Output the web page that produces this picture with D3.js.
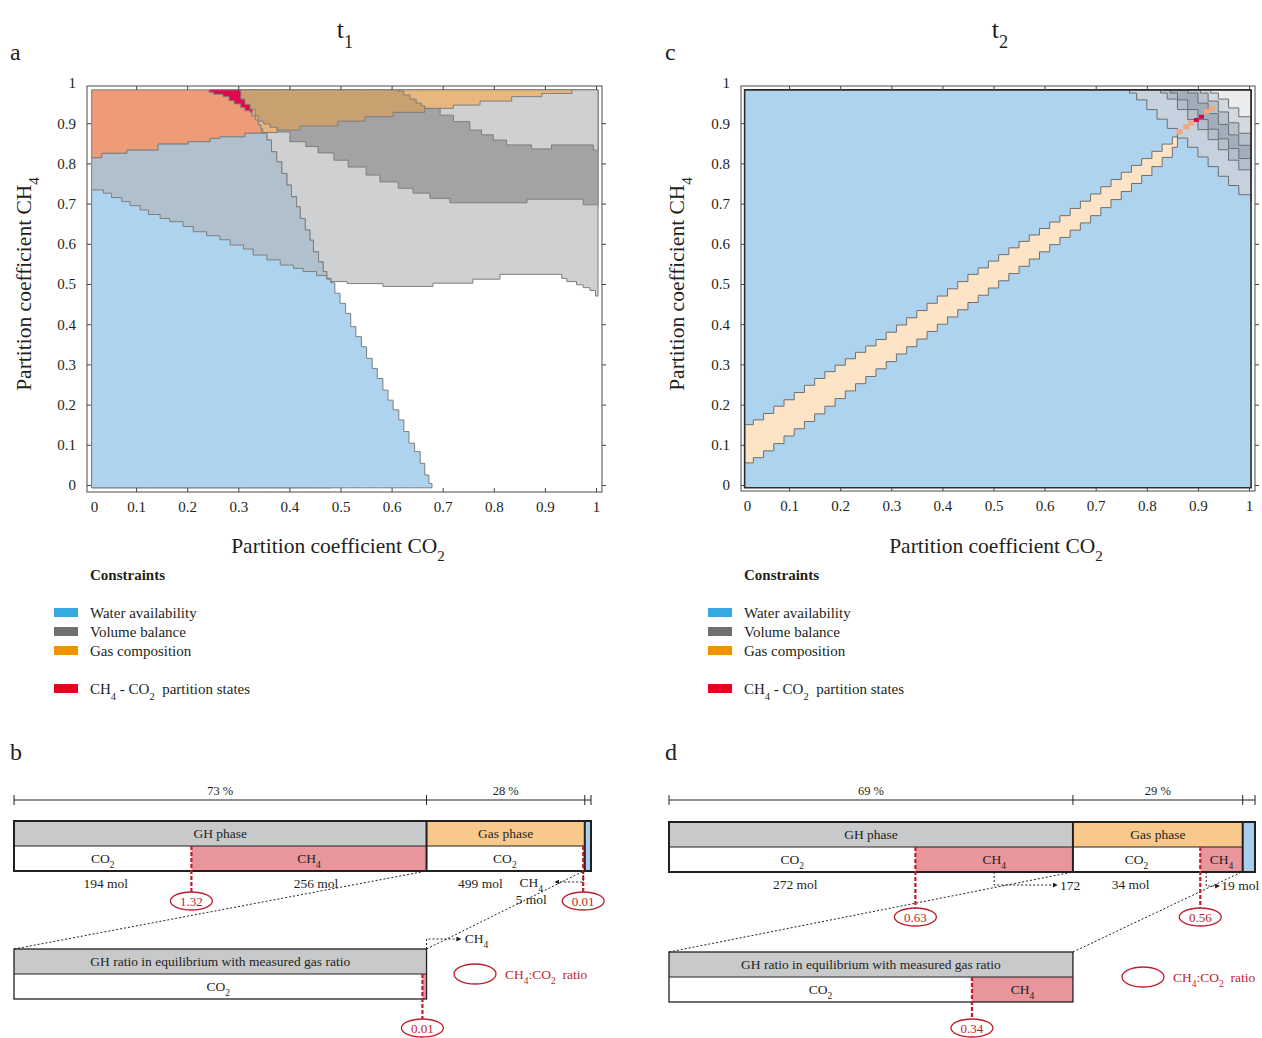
<!DOCTYPE html>
<head>
<meta charset="utf-8">
<script src="https://d3js.org/d3.v7.min.js"></script>
<style>
  body { margin: 0; background: #fff; }
  svg text { font-family: "Liberation Serif", "Times New Roman", Times, serif; }
</style>
</head>
<body>
<script>
// ---------- grid extent of the partition maps (CO2 coeff, CH4 coeff)
const gridLeft = 0.013, gridRight = 1.004, gridBottom = -0.007, gridTop = 0.983;

// ---------- panel a (t1): step boundaries [CO2, CH4]
const waterTopA = [[0.013,0.734],[0.036,0.726],[0.052,0.715],[0.072,0.705],[0.088,0.695],[0.108,0.684],[0.124,0.673],[0.147,0.663],[0.166,0.655],[0.192,0.643],[0.212,0.630],[0.238,0.620],[0.264,0.610],[0.284,0.597],[0.310,0.587],[0.329,0.572],[0.356,0.560],[0.382,0.547],[0.408,0.539],[0.427,0.531],[0.453,0.521],[0.473,0.512],[0.481,0.503],[0.489,0.477],[0.499,0.452],[0.510,0.427],[0.520,0.394],[0.530,0.369],[0.541,0.344],[0.551,0.315],[0.562,0.290],[0.572,0.265],[0.583,0.236],[0.593,0.211],[0.603,0.187],[0.614,0.162],[0.624,0.133],[0.634,0.104],[0.645,0.083],[0.656,0.054],[0.665,0.025],[0.673,0.004],[0.679,0.004]];
const gasEdgeA = [[0.013,0.814],[0.033,0.825],[0.082,0.833],[0.143,0.848],[0.202,0.854],[0.245,0.862],[0.264,0.866],[0.313,0.875]];
const volumeSlopeA = [[0.342,0.875],[0.356,0.858],[0.365,0.829],[0.375,0.804],[0.385,0.775],[0.395,0.746],[0.404,0.717],[0.414,0.692],[0.421,0.663],[0.431,0.634],[0.440,0.609],[0.447,0.580],[0.457,0.555],[0.466,0.531],[0.473,0.514]];
const volumeLowA = [[0.481,0.506],[0.513,0.501],[0.583,0.494],[0.681,0.502],[0.759,0.512],[0.812,0.524],[0.933,0.514],[0.943,0.506],[0.962,0.498],[0.975,0.491],[0.988,0.484],[0.999,0.470],[1.004,0.470]];
const volumeCoreLowA = [[0.376,0.878],[0.401,0.854],[0.432,0.842],[0.456,0.826],[0.487,0.808],[0.515,0.791],[0.550,0.771],[0.577,0.754],[0.613,0.738],[0.642,0.726],[0.675,0.713],[0.714,0.702],[0.865,0.711],[0.975,0.697],[1.004,0.697]];
const volumeCoreTopA = [[0.665,0.937],[0.695,0.920],[0.721,0.904],[0.753,0.883],[0.776,0.871],[0.799,0.858],[0.825,0.846],[0.874,0.836],[0.913,0.846],[0.995,0.833],[1.004,0.833]];
const gasPatchA = [[0.327,0.918],[0.333,0.908],[0.339,0.896],[0.344,0.886],[0.348,0.877],[0.376,0.877]];
const partitionA = [[0.243,0.977],[0.252,0.972],[0.270,0.966],[0.282,0.956],[0.292,0.948],[0.305,0.939],[0.313,0.931],[0.323,0.927],[0.327,0.927]];
const gasCoreA = [[0.305,0.960],[0.313,0.947],[0.323,0.935],[0.333,0.918],[0.339,0.905],[0.350,0.898],[0.362,0.890],[0.376,0.883],[0.421,0.893],[0.495,0.905],[0.548,0.916],[0.603,0.927],[0.665,0.927]];
const gasRightA = [[0.613,0.980],[0.624,0.970],[0.636,0.960],[0.648,0.950],[0.658,0.943],[0.665,0.937],[0.721,0.945],[0.773,0.955],[0.835,0.966],[0.894,0.974],[0.953,0.974]];

// ---------- panel c (t2): gas band [CO2, low CH4, high CH4]
const gasBandC = [[0.013,0.055,0.150],[0.03,0.068,0.162],[0.05,0.085,0.178],[0.07,0.103,0.196],[0.09,0.122,0.212],[0.11,0.140,0.230],[0.13,0.158,0.248],[0.15,0.177,0.265],[0.17,0.196,0.282],[0.19,0.215,0.298],[0.21,0.234,0.314],[0.23,0.252,0.330],[0.25,0.270,0.346],[0.27,0.289,0.362],[0.29,0.307,0.380],[0.31,0.326,0.398],[0.33,0.344,0.416],[0.35,0.363,0.434],[0.37,0.382,0.452],[0.39,0.400,0.470],[0.41,0.418,0.488],[0.43,0.436,0.506],[0.45,0.454,0.524],[0.47,0.472,0.540],[0.49,0.490,0.557],[0.51,0.508,0.573],[0.53,0.526,0.590],[0.55,0.544,0.606],[0.57,0.562,0.622],[0.59,0.580,0.638],[0.61,0.598,0.654],[0.63,0.616,0.670],[0.65,0.634,0.688],[0.67,0.652,0.706],[0.69,0.670,0.724],[0.71,0.690,0.742],[0.73,0.710,0.760],[0.75,0.730,0.778],[0.77,0.750,0.795],[0.79,0.770,0.812],[0.81,0.792,0.830],[0.83,0.815,0.848],[0.85,0.840,0.866],[0.86,0.855,0.875]];
// volume-balance stripes, lower edges
const stripe1C = [[0.766,0.975],[0.78,0.958],[0.80,0.934],[0.82,0.910],[0.84,0.887],[0.86,0.863],[0.88,0.840],[0.90,0.816],[0.92,0.792],[0.94,0.768],[0.96,0.745],[0.98,0.722],[1.004,0.705]];
const stripe2C = [[0.827,0.975],[0.84,0.960],[0.86,0.934],[0.88,0.909],[0.90,0.884],[0.92,0.859],[0.94,0.834],[0.96,0.808],[0.98,0.784],[1.004,0.765]];
const stripe3C = [[0.846,0.975],[0.86,0.958],[0.88,0.934],[0.90,0.909],[0.92,0.885],[0.94,0.861],[0.96,0.837],[0.98,0.812],[1.004,0.795]];
const stripe4C = [[0.88,0.975],[0.90,0.950],[0.92,0.924],[0.94,0.897],[0.96,0.871],[0.98,0.845],[1.004,0.825]];
const stripe5C = [[0.905,0.975],[0.92,0.955],[0.94,0.928],[0.96,0.901],[0.98,0.875],[1.004,0.855]];
const stripe6C = [[0.925,0.975],[0.94,0.960],[0.96,0.938],[0.98,0.916],[1.004,0.900]];
const gasTailC = [[0.864,0.879],[0.877,0.891],[0.887,0.900],[0.917,0.929],[0.927,0.937]];
const partitionC = [[0.897,0.908],[0.907,0.916]];

// ---------- panels b and d
const pctB = [73, 28, 1.1];          // GH, gas, pore water
const pctD = [69, 29, 2.1];
const ghMolB = [194, 256];           // CO2, CH4
const gasMolB = [499, 5];
const ghMolD = [272, 172];
const gasMolD = [34, 19];
const ratioB = [1.32, 0.01, 0.01];   // GH, gas, GH in equilibrium
const ratioD = [0.63, 0.56, 0.34];
const co2ShareB = [0.43, 0.99, 0.99];
const co2ShareD = [0.61, 0.75, 0.75];

const constraintNames = ["Water availability", "Volume balance", "Gas composition"];
const ticks = d3.range(0, 11).map(i => +(i / 10).toFixed(1));

const INK = "#231f20", RED = "#be1e2d", EDGE = "#7e7e7e";
const svg = d3.select("body").append("svg").attr("width", 1262).attr("height", 1038);

function rich(sel, parts, subSize) {
  parts.forEach(p => {
    if (Array.isArray(p)) sel.append("tspan").attr("baseline-shift", "sub").attr("font-size", subSize).text(p[0]);
    else sel.append("tspan").text(p);
  });
  return sel;
}
function label(x, y, size, parts, anchor, fill) {
  const t = svg.append("text").attr("x", x).attr("y", y).attr("font-size", size)
    .attr("text-anchor", anchor || "start").attr("fill", fill || INK);
  return rich(t, parts, size * 0.7);
}

function region(x, y, mode) {
  return d3.area().curve(d3.curveStepAfter)
    .x(d => x(d[0]))
    .y0(d => y(mode === "below" ? gridBottom : d[1]))
    .y1(d => y(mode === "below" ? d[1] : mode === "above" ? gridTop : d[2]));
}

function drawAxes(x, y, f) {
  const [fx0, fx1, fy0, fy1] = f;
  const g = svg.append("g");
  const fmt = d3.format("~g");
  const bottom = g.append("g").attr("transform", `translate(0,${fy1})`)
    .call(d3.axisBottom(x).tickValues(ticks).tickFormat(fmt).tickSize(-4).tickPadding(9));
  const left = g.append("g").attr("transform", `translate(${fx0},0)`)
    .call(d3.axisLeft(y).tickValues(ticks).tickFormat(fmt).tickSize(-4).tickPadding(11));
  const top = g.append("g").attr("transform", `translate(0,${fy0})`)
    .call(d3.axisTop(x).tickValues(ticks).tickFormat("").tickSize(-4));
  const right = g.append("g").attr("transform", `translate(${fx1},0)`)
    .call(d3.axisRight(y).tickValues(ticks).tickFormat("").tickSize(4));
  g.selectAll(".domain").remove();
  g.selectAll(".tick line").attr("stroke", "#444");
  g.selectAll(".tick text").attr("font-size", 15).attr("fill", INK)
    .attr("font-family", '"Liberation Serif", "Times New Roman", serif');
  [bottom, top].forEach(a => a.selectAll(".tick").filter(d => d === 0).select("line").remove());
  [left, right].forEach(a => a.selectAll(".tick").filter(d => d === 1).select("line").remove());
  bottom.selectAll(".tick").filter(d => d === 0).select("text").attr("x", 9);
  g.append("rect").attr("x", fx0).attr("y", fy0).attr("width", fx1 - fx0).attr("height", fy1 - fy0)
    .attr("fill", "none").attr("stroke", "#4a4a4a").attr("stroke-width", 1);
}

// ================= panel a =================
const xA = d3.scaleLinear().domain([0, 1]).range([85, 596]);
const yA = d3.scaleLinear().domain([0, 1]).range([485, 83]);
const layersA = [
  { rows: volumeSlopeA.concat(volumeLowA), mode: "above", fill: "#cfd0d2" },
  { rows: volumeCoreLowA, mode: "above", fill: "#a3a3a5" },
  { rows: volumeCoreTopA, mode: "above", fill: "#cfd0d2" },
  { rows: gasEdgeA.concat([[0.346, 0.875]]), mode: "above", fill: "#ee9b78" },
  { rows: gasPatchA, mode: "above", fill: "#e8b67c" },
  { rows: partitionA, mode: "above", fill: "#e2074d" },
  { rows: gasCoreA, mode: "above", fill: "#c9a06f" },
  { rows: gasRightA, mode: "above", fill: "#e8b77e" },
  { rows: gasEdgeA.concat(volumeSlopeA, [[0.481, 0.514]]), mode: "below", fill: "#b1c0cd" },
  { rows: waterTopA, mode: "below", fill: "#aed3ee" }
];
const gA = svg.append("g");
layersA.forEach(l => gA.append("path").datum(l.rows).attr("d", region(xA, yA, l.mode))
  .attr("fill", l.fill).attr("stroke", EDGE).attr("stroke-width", 1));
drawAxes(xA, yA, [87, 602, 86, 492]);

// ================= panel c =================
const xC = d3.scaleLinear().domain([0, 1]).range([738, 1249]);
const gC = svg.append("g");
const waterC = [[gridLeft, gridBottom, gridTop], [gridRight, gridBottom, gridTop]];
gC.append("path").datum(waterC).attr("d", region(xC, yA, "band")).attr("fill", "#aed3ee");
gC.append("path").datum(gasBandC).attr("d", region(xC, yA, "band"))
  .attr("fill", "#fde4c6").attr("stroke", "#6f6f6f").attr("stroke-width", 1);
[[stripe1C, "#c5d1dc"], [stripe2C, "#b3c0cc"], [stripe3C, "#a0aebb"], [stripe4C, "#b6c1cb"],
 [stripe5C, "#d4d9de"], [stripe6C, "#ebecee"]].forEach(([rows, fill]) =>
  gC.append("path").datum(rows).attr("d", region(xC, yA, "above"))
    .attr("fill", fill).attr("stroke", "#6a6f75").attr("stroke-width", 1));
gC.selectAll("rect.tail").data(gasTailC).join("rect").attr("class", "tail")
  .attr("x", d => xC(d[0]) - 3).attr("y", d => yA(d[1]) - 2.5).attr("width", 6).attr("height", 5)
  .attr("fill", "#f0a77a");
gC.selectAll("rect.part").data(partitionC).join("rect").attr("class", "part")
  .attr("x", d => xC(d[0]) - 2.5).attr("y", d => yA(d[1]) - 2).attr("width", 5).attr("height", 4)
  .attr("fill", "#e0004f");
gC.append("path").datum(waterC).attr("d", region(xC, yA, "band"))
  .attr("fill", "none").attr("stroke", "#2b2b2b").attr("stroke-width", 1.6);
drawAxes(xC, yA, [741, 1255, 86, 491]);

// ================= titles, axis labels, legends =================
label(345, 38, 26, ["t", ["1"]], "middle");
label(1000, 38, 26, ["t", ["2"]], "middle");
[["a", 10, 60], ["c", 665, 60], ["b", 10, 760], ["d", 665, 760]].forEach(([s, x, y]) =>
  svg.append("text").attr("x", x).attr("y", y).attr("font-size", 24).attr("fill", INK).text(s));

[[338, 31], [996, 684]].forEach(([cx, ly]) => {
  label(cx, 553, 21.5, ["Partition coefficient CO", ["2"]], "middle");
  const t = svg.append("text").attr("transform", `translate(${ly},284) rotate(-90)`)
    .attr("font-size", 21.5).attr("text-anchor", "middle").attr("fill", INK);
  rich(t, ["Partition coefficient CH", ["4"]], 15);
});

const swatchColors = ["#36a9e1", "#6f6f6f", "#f39200"];
[0, 654].forEach(dx => {
  svg.append("text").attr("x", 90 + dx).attr("y", 580).attr("font-size", 15).attr("font-weight", "bold")
    .attr("fill", INK).text("Constraints");
  constraintNames.forEach((name, i) => {
    svg.append("rect").attr("x", 54 + dx).attr("y", 608 + i * 19).attr("width", 24).attr("height", 9)
      .attr("fill", swatchColors[i]);
    svg.append("text").attr("x", 90 + dx).attr("y", 618 + i * 19).attr("font-size", 15)
      .attr("fill", INK).text(name);
  });
  svg.append("rect").attr("x", 54 + dx).attr("y", 684).attr("width", 24).attr("height", 9).attr("fill", "#e30520");
  label(90 + dx, 694, 15, ["CH", ["4"], " - CO", ["2"], "\u00a0\u00a0partition states"]);
});

// ================= panels b, d =================
function phaseBars(c) {
  const x = d3.scaleLinear().domain([0, d3.sum(c.pct)]).range([c.x0, c.x1]);
  const c1 = c.pct[0], c2 = c1 + c.pct[1], c3 = c2 + c.pct[2];
  const ghSplit = c1 * c.share[0], gasSplit = c1 + c.pct[1] * c.share[1];
  const h = 25, yb = c.yBar, bot = yb + 2 * h;
  const g = svg.append("g");

  // dimension line
  g.append("line").attr("x1", x(0)).attr("x2", x(c3)).attr("y1", c.yDim).attr("y2", c.yDim).attr("stroke", INK);
  [0, c1, c2, c3].forEach(v => g.append("line").attr("x1", x(v)).attr("x2", x(v))
    .attr("y1", c.yDim - 5).attr("y2", c.yDim + 5).attr("stroke", INK));
  [[0, c1, c.pct[0]], [c1, c2, c.pct[1]]].forEach(([a, b, p]) =>
    g.append("text").attr("x", (x(a) + x(b)) / 2).attr("y", c.yDim - 5).attr("text-anchor", "middle")
      .attr("font-size", 12.5).attr("fill", INK).text(p + " %"));

  // bar fills
  const rect = (a, b, y, hh, fill) => g.append("rect").attr("x", x(a)).attr("y", y)
    .attr("width", x(b) - x(a)).attr("height", hh).attr("fill", fill);
  rect(0, c1, yb, h, "#c8c9cb");
  rect(c1, c2, yb, h, "#f9c98b");
  rect(0, ghSplit, yb + h, h, "#fff");
  rect(ghSplit, c1, yb + h, h, "#e8969b");
  rect(c1, gasSplit, yb + h, h, "#fff");
  rect(gasSplit, c2, yb + h, h, "#e8969b");
  rect(c2, c3, yb, 2 * h, "#a8ceed");
  g.append("line").attr("x1", x(0)).attr("x2", x(c2)).attr("y1", yb + h).attr("y2", yb + h)
    .attr("stroke", INK).attr("stroke-width", 1);
  [c1, c2].forEach(v => g.append("line").attr("x1", x(v)).attr("x2", x(v)).attr("y1", yb).attr("y2", bot)
    .attr("stroke", INK).attr("stroke-width", 2));
  g.append("rect").attr("x", x(0)).attr("y", yb).attr("width", x(c3) - x(0)).attr("height", 2 * h)
    .attr("fill", "none").attr("stroke", INK).attr("stroke-width", 2);

  const txt = (xx, yy, parts, size, fill) => {
    const t = g.append("text").attr("x", xx).attr("y", yy).attr("text-anchor", "middle")
      .attr("font-size", size || 13.5).attr("fill", fill || INK);
    return rich(t, parts, 9.5);
  };
  txt((x(0) + x(c1)) / 2, yb + 17, ["GH phase"]);
  txt((x(c1) + x(c2)) / 2, yb + 17, ["Gas phase"]);
  txt((x(0) + x(ghSplit)) / 2, yb + h + 17, ["CO", ["2"]]);
  txt((x(ghSplit) + x(c1)) / 2, yb + h + 17, ["CH", ["4"]]);
  txt((x(c1) + x(gasSplit)) / 2, yb + h + 17, ["CO", ["2"]]);
  if (c.gasCH4Inside) txt((x(gasSplit) + x(c2)) / 2, yb + h + 17, ["CH", ["4"]]);
  txt(x(ghSplit / 2) + 3, bot + 17, [c.gh[0] + " mol"]);
  txt(x(c1 + c.pct[1] * 0.34), bot + 17, [c.gas[0] + " mol"]);

  // lower bar: GH ratio in equilibrium
  const lx0 = x(0), lx1 = x(c1), ly = c.yLow;
  const lsplit = lx0 + (lx1 - lx0) * c.share[2];
  g.append("rect").attr("x", lx0).attr("y", ly).attr("width", lx1 - lx0).attr("height", h).attr("fill", "#c8c9cb");
  g.append("rect").attr("x", lx0).attr("y", ly + h).attr("width", lsplit - lx0).attr("height", h).attr("fill", "#fff");
  g.append("rect").attr("x", lsplit).attr("y", ly + h).attr("width", lx1 - lsplit).attr("height", h).attr("fill", "#e8969b");
  g.append("line").attr("x1", lx0).attr("x2", lx1).attr("y1", ly + h).attr("y2", ly + h).attr("stroke", INK);
  g.append("rect").attr("x", lx0).attr("y", ly).attr("width", lx1 - lx0).attr("height", 2 * h)
    .attr("fill", "none").attr("stroke", INK).attr("stroke-width", 1.3);
  txt((lx0 + lx1) / 2, ly + 17, ["GH ratio in equilibrium with measured gas ratio"]);
  txt((lx0 + lsplit) / 2, ly + h + 17, ["CO", ["2"]]);
  if (c.lowCH4Inside) txt((lsplit + lx1) / 2, ly + h + 17, ["CH", ["4"]]);

  // zoom connectors
  const dotted = (pts, arrow) => g.append("path").attr("d", d3.line()(pts)).attr("fill", "none")
    .attr("stroke", INK).attr("stroke-width", 1).attr("stroke-dasharray", "2,2")
    .attr("marker-end", arrow ? "url(#arrow)" : null);
  dotted([[lx0, ly], [x(c1), bot]]);
  dotted([[lx1, ly], [x(c2) - 1, bot]]);

  // ratio markers
  const marker = (xx, y0, ey, v) => {
    g.append("line").attr("x1", xx).attr("x2", xx).attr("y1", y0).attr("y2", ey - 9)
      .attr("stroke", RED).attr("stroke-width", 2.2).attr("stroke-dasharray", "4,2");
    g.append("ellipse").attr("cx", xx).attr("cy", ey).attr("rx", 21).attr("ry", 9)
      .attr("fill", "#fff").attr("stroke", RED).attr("stroke-width", 1.3);
    txt(xx, ey + 4.5, [d3.format(".2f")(v)], 13, RED);
  };
  marker(x(ghSplit), yb + h, c.yEll, c.ratio[0]);
  marker(x(gasSplit), yb + h, c.yEll, c.ratio[1]);
  marker(lsplit, ly + h, c.yEllLow, c.ratio[2]);

  // legend ellipse
  g.append("ellipse").attr("cx", c.legX).attr("cy", c.legY).attr("rx", 21).attr("ry", 10)
    .attr("fill", "none").attr("stroke", RED).attr("stroke-width", 1.3);
  const lt = g.append("text").attr("x", c.legX + 30).attr("y", c.legY + 5).attr("font-size", 13.5).attr("fill", RED);
  rich(lt, ["CH", ["4"], ":CO", ["2"], "\u00a0 ratio"], 9.5);

  return { x, g, c1, c2, ghSplit, gasSplit, bot, lx1, ly, txt, dotted };
}

svg.append("defs").append("marker").attr("id", "arrow").attr("viewBox", "0 0 6 6").attr("refX", 5).attr("refY", 3)
  .attr("markerWidth", 5).attr("markerHeight", 5).attr("orient", "auto")
  .append("path").attr("d", "M0,0L6,3L0,6Z").attr("fill", INK);

const pb = phaseBars({ x0: 14, x1: 591, yDim: 800, yBar: 821, yLow: 949, yEll: 901, yEllLow: 1028,
  pct: pctB, share: co2ShareB, gh: ghMolB, gas: gasMolB, ratio: ratioB, legX: 475, legY: 974,
  gasCH4Inside: false, lowCH4Inside: false });
pb.txt((pb.x(pb.ghSplit) + pb.x(pb.c1)) / 2 + 7, pb.bot + 17, [ghMolB[1] + " mol"]);
pb.txt(pb.x(pb.gasSplit) - 52, pb.bot + 16, ["CH", ["4"]]);
pb.txt(pb.x(pb.gasSplit) - 52, pb.bot + 33, [gasMolB[1] + " mol"]);
pb.dotted([[pb.x(pb.gasSplit), pb.bot], [pb.x(pb.gasSplit), pb.bot + 11], [pb.x(pb.gasSplit) - 28, pb.bot + 11]], true);
pb.dotted([[pb.lx1, pb.ly], [pb.lx1, pb.ly - 10], [pb.lx1 + 34, pb.ly - 10]], true);
pb.txt(pb.lx1 + 50, pb.ly - 6, ["CH", ["4"]]);

const pd = phaseBars({ x0: 669, x1: 1255, yDim: 800, yBar: 822, yLow: 952, yEll: 917, yEllLow: 1028,
  pct: pctD, share: co2ShareD, gh: ghMolD, gas: gasMolD, ratio: ratioD, legX: 1143, legY: 977,
  gasCH4Inside: true, lowCH4Inside: true });
const ghCH4Mid = (pd.x(pd.ghSplit) + pd.x(pd.c1)) / 2;
pd.dotted([[ghCH4Mid, pd.bot], [ghCH4Mid, pd.bot + 13], [pd.x(pd.c1) - 16, pd.bot + 13]], true);
pd.g.append("text").attr("x", pd.x(pd.c1) - 13).attr("y", pd.bot + 18).attr("font-size", 13.5)
  .attr("fill", INK).text(ghMolD[1]);
const gasCH4x = pd.x(pd.gasSplit) + 6;
pd.dotted([[gasCH4x, pd.bot], [gasCH4x, pd.bot + 14], [gasCH4x + 13, pd.bot + 14]], true);
pd.g.append("text").attr("x", gasCH4x + 15).attr("y", pd.bot + 18).attr("font-size", 13.5)
  .attr("fill", INK).text(gasMolD[1] + " mol");
</script>
</body>
